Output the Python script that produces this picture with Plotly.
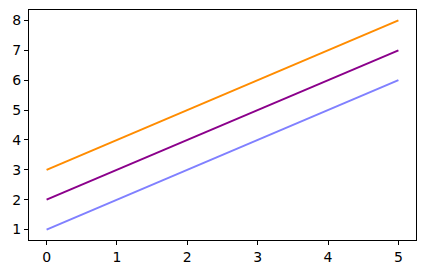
import plotly.graph_objects as go

x = [0, 1, 2, 3, 4, 5]
y_blue = [1, 2, 3, 4, 5, 6]
y_purple = [2, 3, 4, 5, 6, 7]
y_orange = [3, 4, 5, 6, 7, 8]

fig = go.Figure()
fig.add_trace(go.Scatter(x=x, y=y_blue, mode="lines", line=dict(color="#8080FF", width=2)))
fig.add_trace(go.Scatter(x=x, y=y_purple, mode="lines", line=dict(color="#8B008B", width=2)))
fig.add_trace(go.Scatter(x=x, y=y_orange, mode="lines", line=dict(color="#FF8C00", width=2)))

axis_common = dict(showline=True, linecolor="black", linewidth=1, mirror=True,
                   ticks="outside", ticklen=4, tickcolor="black", tickwidth=1,
                   showgrid=False, zeroline=False,
                   tickfont=dict(family="DejaVu Sans", size=14, color="black"))
fig.update_xaxes(range=[-0.25, 5.25], tickvals=[0, 1, 2, 3, 4, 5], **axis_common)
fig.update_yaxes(range=[0.65, 8.35], tickvals=[1, 2, 3, 4, 5, 6, 7, 8], **axis_common)
fig.update_layout(width=426, height=274, showlegend=False,
                  margin=dict(l=29, r=9, t=9, b=33),
                  plot_bgcolor="white", paper_bgcolor="white")
fig.write_html("out.html")
